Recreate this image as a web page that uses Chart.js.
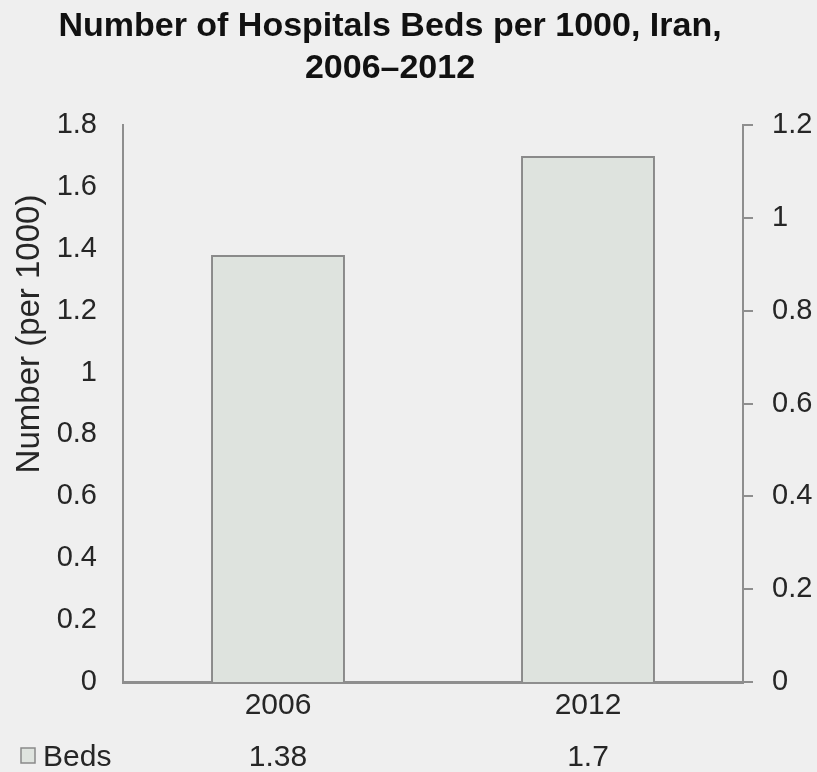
<!DOCTYPE html>
<html>
<head>
<meta charset="utf-8">
<script src="https://cdn.jsdelivr.net/npm/chart.js@4/dist/chart.umd.min.js"></script>
<style>
  html, body { margin: 0; padding: 0; background: #efefef; }
  #wrap { width: 817px; height: 772px; position: relative; }
</style>
</head>
<body>
<div id="wrap"><canvas id="c" width="817" height="772"></canvas></div>
<script>
const categories = ['2006', '2012'];
const bedsValues = [1.38, 1.7];
const seriesName = 'Beds';
const titleLines = ['Number of Hospitals Beds per 1000, Iran,', '2006\u20132012'];
const yAxisTitle = 'Number (per 1000)';
const leftAxisRange = [0, 1.8, 0.2];
const rightAxisRange = [0, 1.2, 0.2];

const FONT = "'Liberation Sans', Arial, sans-serif";
const TXT = '#262626';
const AXIS = '#8e8e8e';

const extras = {
  id: 'extras',
  beforeDraw(chart) {
    const ctx = chart.ctx;
    ctx.save();
    ctx.fillStyle = '#efefef';
    ctx.fillRect(0, 0, chart.width, chart.height);
    ctx.restore();
  },
  afterDraw(chart) {
    const ctx = chart.ctx;
    const x = chart.scales.x;

    // chart title (centred slightly left of canvas centre, as in the original)
    ctx.save();
    ctx.font = 'bold 34px ' + FONT;
    ctx.fillStyle = '#111';
    ctx.textAlign = 'center';
    ctx.textBaseline = 'alphabetic';
    titleLines.forEach((t, i) => ctx.fillText(t, 390, 36 + i * 42));
    ctx.restore();

    // y axis title
    ctx.save();
    ctx.font = '33px ' + FONT;
    ctx.fillStyle = TXT;
    ctx.textAlign = 'center';
    ctx.textBaseline = 'middle';
    ctx.translate(30, 334);
    ctx.rotate(-Math.PI / 2);
    ctx.fillText(yAxisTitle, 0, 0);
    ctx.restore();

    // data table row
    ctx.save();
    ctx.font = '30px ' + FONT;
    ctx.fillStyle = TXT;
    ctx.textBaseline = 'middle';
    const rowY = 758;
    ctx.textAlign = 'center';
    bedsValues.forEach((v, i) => {
      ctx.fillText(String(v), x.getPixelForValue(i), rowY);
    });
    // legend key
    ctx.textAlign = 'left';
    ctx.fillText(seriesName, 43, rowY);
    ctx.fillStyle = '#dfe4df';
    ctx.strokeStyle = '#8a8a8a';
    ctx.lineWidth = 1.5;
    ctx.fillRect(21, rowY - 10, 14, 15);
    ctx.strokeRect(21, rowY - 10, 14, 15);
    ctx.restore();
  }
};

new Chart(document.getElementById('c'), {
  type: 'bar',
  data: {
    labels: categories,
    datasets: [{
      label: seriesName,
      data: bedsValues,
      yAxisID: 'y',
      backgroundColor: '#dee3de',
      borderColor: '#8a8a8a',
      borderWidth: 2,
      categoryPercentage: 1,
      barPercentage: 0.432
    }]
  },
  options: {
    responsive: false,
    animation: false,
    layout: { padding: { left: 0, right: 0, top: 125, bottom: 0 } },
    plugins: {
      legend: { display: false },
      tooltip: { enabled: false },
      title: { display: false }
    },
    scales: {
      x: {
        grid: { display: false, drawTicks: false },
        border: { display: true, color: AXIS, width: 3 },
        ticks: { color: TXT, font: { family: FONT, size: 30 }, padding: 6 },
        afterFit(s) { s.height = 90; }
      },
      y: {
        position: 'left',
        min: leftAxisRange[0], max: leftAxisRange[1],
        grid: { display: false, drawTicks: false },
        border: { display: true, color: AXIS, width: 2 },
        ticks: {
          stepSize: leftAxisRange[2],
          color: TXT,
          font: { family: FONT, size: 29 },
          padding: 26,
          callback: v => String(Math.round(v * 10) / 10)
        },
        afterFit(s) { s.width = 123; }
      },
      y1: {
        position: 'right',
        min: rightAxisRange[0], max: rightAxisRange[1],
        grid: { drawOnChartArea: false, drawTicks: true, tickLength: 10, color: AXIS, lineWidth: 2 },
        border: { display: true, color: AXIS, width: 2 },
        ticks: {
          stepSize: rightAxisRange[2],
          color: TXT,
          font: { family: FONT, size: 29 },
          padding: 19,
          callback: v => String(Math.round(v * 10) / 10)
        },
        afterFit(s) { s.width = 74; }
      }
    }
  },
  plugins: [extras]
});
</script>
</body>
</html>
